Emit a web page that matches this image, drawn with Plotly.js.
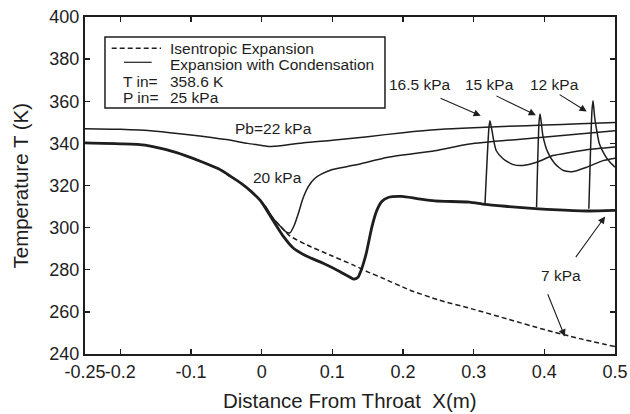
<!DOCTYPE html>
<html>
<head>
<meta charset="utf-8">
<script src="https://cdn.plot.ly/plotly-3.0.1.min.js"></script>
<style>
  html, body { margin: 0; padding: 0; background: #fff; }
  #chart { width: 630px; height: 414px; }
</style>
</head>
<body>
<div id="chart"></div>
<script>
// Nozzle temperature along the axis, distance from throat X (m) vs T (K)

// Isentropic expansion (no condensation)
const xIsen = [-0.25, -0.2, -0.165, -0.135, -0.108, -0.085, -0.061, -0.045, -0.028, -0.015, 0.002, 0.015, 0.026, 0.04, 0.064, 0.1, 0.13, 0.15, 0.17, 0.21, 0.25, 0.3, 0.35, 0.4, 0.45, 0.5];
const tIsen = [340.2, 339.8, 339.2, 337, 334.2, 331.3, 327.9, 324.6, 320.8, 317.2, 311.5, 305, 300.8, 296, 291.8, 286.5, 282.2, 279, 276.2, 270.3, 265.7, 261.2, 256.4, 251.6, 247.3, 243.5];

// Back pressure 7 kPa (condensation shock, shared lower branch)
const x7 = [-0.25, -0.2, -0.165, -0.135, -0.108, -0.085, -0.061, -0.045, -0.028, -0.015, -0.002, 0.016, 0.031, 0.045, 0.064, 0.087, 0.111, 0.122, 0.13, 0.136, 0.141, 0.148, 0.156, 0.163, 0.17, 0.179, 0.198, 0.22, 0.245, 0.294, 0.316, 0.35, 0.387, 0.42, 0.462, 0.5];
const t7 = [340.2, 339.8, 339.2, 337, 334.2, 331.3, 327.9, 324.6, 320.8, 317.2, 312.9, 303.5, 295.7, 290.2, 286.4, 283.1, 279.1, 277, 275.6, 276.3, 280, 287.8, 300.4, 308.2, 312.4, 314.3, 314.8, 313.8, 312.7, 312.1, 311, 310, 309, 308.4, 307.9, 308.2];

// Back pressure 22 kPa
const x22 = [-0.25, -0.2, -0.15, -0.1, -0.05, -0.02, 0, 0.01, 0.03, 0.06, 0.1, 0.15, 0.2, 0.25, 0.3, 0.35, 0.4, 0.45, 0.5];
const t22 = [347, 346.7, 345.8, 344, 341.8, 340, 339, 338.5, 339, 340.3, 341.5, 343.2, 345.1, 346.6, 347.4, 348.1, 348.7, 349.3, 349.9];

// Back pressure 20 kPa (leaves the 7 kPa curve near the throat)
const x20 = [0.005, 0.015, 0.026, 0.035, 0.04, 0.046, 0.052, 0.058, 0.066, 0.075, 0.085, 0.1, 0.132, 0.179, 0.245, 0.294, 0.394, 0.5];
const t20 = [310.5, 305, 300.8, 297.8, 297.5, 301, 306.8, 313.5, 319.5, 323.3, 325.5, 327.6, 329.7, 333.4, 336.5, 339.7, 342.8, 346];

// Back pressures 16.5, 15 and 12 kPa (pressure spikes off the lower branch)
const x165 = [0.316, 0.3215, 0.323, 0.326, 0.328, 0.332, 0.342, 0.356, 0.37, 0.389, 0.412, 0.436, 0.46, 0.5];
const t165 = [311, 347, 350.7, 346, 342, 336.5, 332.6, 329.9, 329.5, 331, 334.2, 335.7, 337, 338.3];
const x15 = [0.389, 0.3925, 0.394, 0.396, 0.398, 0.405, 0.415, 0.427, 0.441, 0.46, 0.483, 0.5];
const t15 = [309.7, 350, 353.9, 349, 343.6, 335.7, 330.3, 327.1, 326.6, 328.7, 331.8, 333];
const x12 = [0.463, 0.4675, 0.469, 0.471, 0.473, 0.478, 0.486, 0.493, 0.5];
const t12 = [309, 356, 360.2, 353, 348.4, 339.7, 334.2, 331, 328.7];

// Axis ticks
const xTickVals = [-0.25, -0.2, -0.1, 0, 0.1, 0.2, 0.3, 0.4, 0.5];
const xTickText = ['-0.25', '-0.2', '-0.1', '0', '0.1', '0.2', '0.3', '0.4', '0.5'];

// Curve labels: [text, x, T]
const curveLabels = [
  ['Pb=22 kPa', 0.017, 347],
  ['20 kPa', 0.022, 323.8],
  ['16.5 kPa', 0.224, 367.8],
  ['15 kPa', 0.323, 367.8],
  ['12 kPa', 0.415, 367.8],
  ['7 kPa', 0.424, 277.4]
];
// Label arrows: [tail x, tail T, head x, head T]
const labelArrows = [
  [0.251, 361.7, 0.31, 353.1],
  [0.33, 362.9, 0.388, 353.4],
  [0.4195, 363.6, 0.46, 355.1],
  [0.443, 285.3, 0.486, 305.3],
  [0.404, 269.1, 0.429, 248.3]
];

const INK = '#1e1e1e';
const FONT = 'Liberation Sans, Arial, Helvetica, sans-serif';

function line(x, y, width, dash) {
  return { x: x, y: y, type: 'scatter', mode: 'lines', showlegend: false, hoverinfo: 'skip',
           line: { color: INK, width: width, dash: dash || 'solid', shape: 'spline', smoothing: 0.6 } };
}

const traces = [
  line(xIsen, tIsen, 1.5, '5px,3px'),
  line(x22, t22, 1.5),
  line(x20, t20, 1.5),
  line(x7, t7, 2.8),
  line(x165, t165, 1.5),
  line(x15, t15, 1.5),
  line(x12, t12, 1.5)
];

const annotations = [];
curveLabels.forEach(function (l) {
  annotations.push({ x: l[1], y: l[2], xref: 'x', yref: 'y', text: l[0], showarrow: false,
                     font: { family: FONT, size: 15.5, color: INK } });
});
labelArrows.forEach(function (a) {
  annotations.push({ x: a[2], y: a[3], ax: a[0], ay: a[1], xref: 'x', yref: 'y', axref: 'x', ayref: 'y',
                     text: '', showarrow: true, arrowhead: 2, arrowsize: 1.3, arrowwidth: 1.1,
                     arrowcolor: INK, standoff: 0 });
});

// Axis titles, placed as paper-anchored text
annotations.push({ x: 0.5, y: -0.137, xref: 'paper', yref: 'paper', xanchor: 'center', yanchor: 'middle',
                   text: 'Distance From Throat  X(m)', showarrow: false,
                   font: { family: FONT, size: 20.5, color: INK } });
annotations.push({ x: -0.1226, y: 0.5, xref: 'paper', yref: 'paper', xanchor: 'center', yanchor: 'middle',
                   text: 'Temperature T (K)', textangle: -90, showarrow: false,
                   font: { family: FONT, size: 20.5, color: INK } });

// Key box text
const keyRows = [
  ['Isentropic Expansion', 0.1566, 0.908],
  ['Expansion with Condensation', 0.1566, 0.858],
  ['T in=', 0.068, 0.810],
  ['358.6 K', 0.1566, 0.810],
  ['P in=', 0.068, 0.760],
  ['25 kPa', 0.1566, 0.760]
];
keyRows.forEach(function (r) {
  annotations.push({ x: r[1], y: r[2], xref: 'paper', yref: 'paper', xanchor: 'left', yanchor: 'middle',
                     text: r[0], showarrow: false, font: { family: FONT, size: 15.5, color: INK } });
});

const shapes = [
  { type: 'rect', xref: 'paper', yref: 'paper', x0: 0.0377, x1: 0.566, y0: 0.730, y1: 0.9407,
    line: { color: INK, width: 1.5 }, fillcolor: 'rgba(0,0,0,0)' },
  { type: 'line', xref: 'paper', yref: 'paper', x0: 0.0504, x1: 0.1434, y0: 0.9071, y1: 0.9071,
    line: { color: INK, width: 1.4, dash: '5px,3px' } },
  { type: 'line', xref: 'paper', yref: 'paper', x0: 0.0736, x1: 0.1258, y0: 0.8656, y1: 0.8656,
    line: { color: INK, width: 1.2 } }
];

const axisCommon = {
  showgrid: false, zeroline: false, showline: true, linecolor: INK, linewidth: 2,
  mirror: 'ticks', ticks: 'inside', ticklen: 5, tickwidth: 1.3, tickcolor: INK,
  tickfont: { family: FONT, size: 18, color: INK }, automargin: false
};

const layout = {
  width: 630, height: 414,
  margin: { l: 85, r: 15, t: 17, b: 60 },
  paper_bgcolor: '#fff', plot_bgcolor: '#fff',
  showlegend: false,
  xaxis: Object.assign({}, axisCommon, {
    range: [-0.25, 0.5], tickvals: xTickVals, ticktext: xTickText, tickangle: 0
  }),
  yaxis: Object.assign({}, axisCommon, {
    range: [240, 400], dtick: 20, tick0: 240
  }),
  annotations: annotations,
  shapes: shapes
};

Plotly.newPlot('chart', traces, layout, { staticPlot: true, displayModeBar: false });
</script>
</body>
</html>
